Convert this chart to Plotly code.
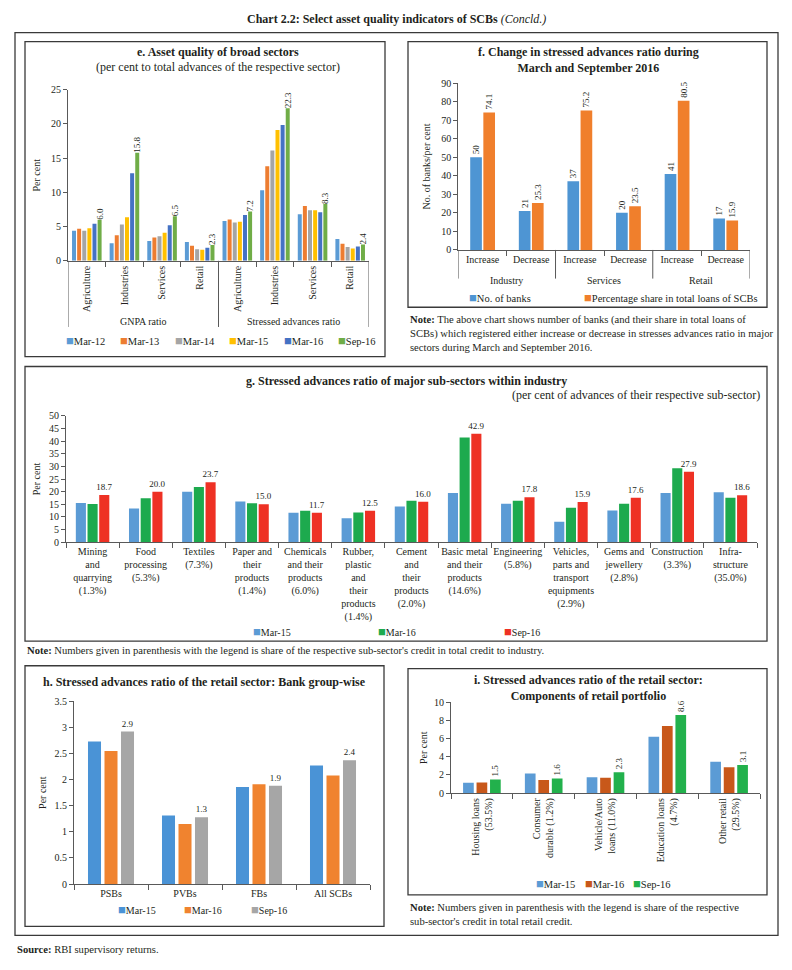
import plotly.graph_objects as go

W, H = 792, 970
FONT = "Liberation Serif"
TXT = "#231f20"
AX = "#595959"


def fx(v):
    return v / W


def fy(v):
    return 1 - v / H


# ---------------- panel e data ----------------
e_groups = ["GNPA ratio", "Stressed advances ratio"]
e_sectors = ["Agriculture", "Industries", "Services", "Retail"]
e_periods = ["Mar-12", "Mar-13", "Mar-14", "Mar-15", "Mar-16", "Sep-16"]
e_mar12 = [4.4, 2.55, 2.9, 2.75, 5.8, 10.3, 6.8, 3.2]
e_mar13 = [4.7, 3.75, 3.4, 2.2, 6.05, 13.8, 8.0, 2.5]
e_mar14 = [4.4, 5.3, 3.6, 1.7, 5.6, 16.1, 7.4, 2.0]
e_mar15 = [4.75, 6.35, 4.1, 1.6, 5.7, 19.1, 7.4, 1.8]
e_mar16 = [5.4, 12.8, 5.2, 1.9, 6.7, 19.85, 7.1, 2.1]
e_sep16 = [6.0, 15.8, 6.5, 2.3, 7.2, 22.3, 8.3, 2.4]

# ---------------- panel f data ----------------
f_sectors = ["Industry", "Services", "Retail"]
f_changes = ["Increase", "Decrease"]
f_series = ["No. of banks", "Percentage share in total loans of SCBs"]
f_banks = [50, 21, 37, 20, 41, 17]
f_share = [74.1, 25.3, 75.2, 23.5, 80.5, 15.9]

# ---------------- panel g data ----------------
g_subsectors = [
    "Mining<br>and<br>quarrying<br>(1.3%)",
    "Food<br>processing<br>(5.3%)",
    "Textiles<br>(7.3%)",
    "Paper and<br>their<br>products<br>(1.4%)",
    "Chemicals<br>and their<br>products<br>(6.0%)",
    "Rubber,<br>plastic<br>and<br>their<br>products<br>(1.4%)",
    "Cement<br>and<br>their<br>products<br>(2.0%)",
    "Basic metal<br>and their<br>products<br>(14.6%)",
    "Engineering<br>(5.8%)",
    "Vehicles,<br>parts and<br>transport<br>equipments<br>(2.9%)",
    "Gems and<br>jewellery<br>(2.8%)",
    "Construction<br>(3.3%)",
    "Infra-<br>structure<br>(35.0%)",
]
g_periods = ["Mar-15", "Mar-16", "Sep-16"]
g_mar15 = [15.5, 13.4, 20.0, 16.1, 11.7, 9.5, 14.2, 19.5, 15.2, 8.1, 12.6, 19.5, 19.8]
g_mar16 = [15.1, 17.4, 21.9, 15.4, 12.5, 11.8, 16.4, 41.4, 16.4, 13.7, 15.2, 29.3, 17.6]
g_sep16 = [18.7, 20.0, 23.7, 15.0, 11.7, 12.5, 16.0, 42.9, 17.8, 15.9, 17.6, 27.9, 18.6]

# ---------------- panel h data ----------------
h_groups = ["PSBs", "PVBs", "FBs", "All SCBs"]
h_periods = ["Mar-15", "Mar-16", "Sep-16"]
h_mar15 = [2.73, 1.31, 1.86, 2.27]
h_mar16 = [2.55, 1.15, 1.91, 2.08]
h_sep16 = [2.92, 1.28, 1.88, 2.37]

# ---------------- panel i data ----------------
i_components = [
    "Housing loans<br>(53.5%)",
    "Consumer<br>durable (1.2%)",
    "Vehicle/Auto<br>loans (11.0%)",
    "Education loans<br>(4.7%)",
    "Other retail<br>(29.5%)",
]
i_periods = ["Mar-15", "Mar-16", "Sep-16"]
i_mar15 = [1.13, 2.15, 1.75, 6.2, 3.45]
i_mar16 = [1.16, 1.45, 1.7, 7.4, 2.85]
i_sep16 = [1.5, 1.6, 2.3, 8.6, 3.1]

# colours
e_cols = ["#5B9BD5", "#ED7D31", "#A5A5A5", "#FFC000", "#4472C4", "#70AD47"]
f_cols = ["#4E95D3", "#F07F2C"]
g_cols = ["#5B9BD5", "#1DAA4E", "#EE3124"]
h_cols = ["#4A93D6", "#F0832F", "#A6A6A6"]
i_cols = ["#5B9BD5", "#C8581A", "#22B14C"]


def offsets(n, pitch, width):
    start = -n * pitch / 2 + (pitch - width) / 2
    return [start + k * pitch for k in range(n)]


fig = go.Figure()
VFONT = dict(size=9, color=TXT, family=FONT)


def add_bars(x, series, names, cols, xa, ya, pitch, width, label_all=False, label_fmt="%{y:.1f}", angle=0):
    offs = offsets(len(series), pitch, width)
    for k, (name, vals, col) in enumerate(zip(names, series, cols)):
        lab = label_all or k == len(series) - 1
        fig.add_trace(go.Bar(
            x=x, y=vals, name=name, marker=dict(color=col, line=dict(width=0)),
            offset=offs[k], width=width, xaxis=xa, yaxis=ya, showlegend=False,
            texttemplate=label_fmt if lab else None, textposition="outside" if lab else "none",
            textangle=angle, constraintext="none", cliponaxis=False, textfont=VFONT,
        ))


# ---- e
e_labels = [s for _ in e_groups for s in e_sectors]
e_x = list(range(len(e_labels)))
add_bars(e_x, [e_mar12, e_mar13, e_mar14, e_mar15, e_mar16, e_sep16], e_periods, e_cols,
         "x", "y", 0.136, 0.106, angle=-90)
# ---- f
f_labels = [c for _ in f_sectors for c in f_changes]
f_x = list(range(len(f_labels)))
add_bars(f_x, [f_banks, f_share], f_series, f_cols, "x2", "y2", 0.27, 0.24, label_all=True,
         label_fmt="%{y}", angle=-90)
# ---- g
add_bars(g_subsectors, [g_mar15, g_mar16, g_sep16], g_periods, g_cols, "x3", "y3", 0.22, 0.19)
# ---- h
add_bars(h_groups, [h_mar15, h_mar16, h_sep16], h_periods, h_cols, "x4", "y4", 0.223, 0.176)
# ---- i
add_bars(i_components, [i_mar15, i_mar16, i_sep16], i_periods, i_cols, "x5", "y5", 0.218, 0.173, angle=-90)

tickfont = dict(size=10, color=TXT, family=FONT)


def xax(d0, d1, anchor, **kw):
    base = dict(domain=[fx(d0), fx(d1)], anchor=anchor, showline=True, linecolor=AX, linewidth=1,
                ticks="outside", ticklen=5, tickcolor=AX, tickfont=tickfont, showgrid=False,
                zeroline=False, fixedrange=True)
    base.update(kw)
    return base


def yax(top, bottom, anchor, rng, dtick, title, standoff, **kw):
    base = dict(domain=[fy(bottom), fy(top)], anchor=anchor, range=rng, dtick=dtick, showline=True,
                linecolor=AX, linewidth=1, ticks="outside", ticklen=4, tickcolor=AX, tickfont=tickfont,
                showgrid=False, zeroline=False, fixedrange=True,
                title=dict(text=title, font=dict(size=10, color=TXT, family=FONT), standoff=standoff))
    base.update(kw)
    return base


def boundaries(n, skip_every):
    return [i + 0.5 for i in range(n - 1) if (i + 1) % skip_every != 0]


fig.update_layout(
    width=W, height=H, margin=dict(l=0, r=0, t=0, b=0), paper_bgcolor="white", plot_bgcolor="white",
    font=dict(family=FONT, color=TXT, size=10), barmode="overlay", showlegend=False,
    xaxis=xax(68, 369, "y", range=[-0.5, len(e_labels) - 0.5], tickmode="array", tickvals=e_x,
              ticktext=e_labels, ticks="", tickangle=-90,
              minor=dict(tickmode="array", tickvals=boundaries(len(e_labels), len(e_sectors)),
                         ticks="outside", ticklen=5, tickcolor=AX)),
    yaxis=yax(84.7, 258, "x", [0, 25], 5, "Per cent", 8),
    xaxis2=xax(458.3, 750, "y2", range=[-0.5, len(f_labels) - 0.5], tickmode="array", tickvals=f_x,
               ticktext=f_labels, ticks="", tickangle=0,
               minor=dict(tickmode="array", tickvals=boundaries(len(f_labels), len(f_changes)),
                          ticks="outside", ticklen=5, tickcolor=AX)),
    yaxis2=yax(78, 247, "x2", [0, 90], 10, "No. of banks/per cent", 8),
    xaxis3=xax(66, 757, "y3", type="category", tickangle=0, tickson="boundaries"),
    yaxis3=yax(415, 543, "x3", [0, 50], 5, "Per cent", 6),
    xaxis4=xax(74, 370, "y4", type="category", tickangle=0, tickson="boundaries"),
    yaxis4=yax(704, 889, "x4", [0, 3.5], 0.5, "Per cent", 5),
    xaxis5=xax(451, 760, "y5", type="category", tickangle=-90, tickson="boundaries"),
    yaxis5=yax(705, 797, "x5", [0, 10], 2, "Per cent", 4),
)

# ---- group dividers and group labels (panels e and f)
for k in range(len(e_groups) + 1):
    xv = k * len(e_sectors) - 0.5
    fig.add_shape(type="line", xref="x", yref="paper", x0=xv, x1=xv, y0=fy(325), y1=fy(258),
                  line=dict(color=AX, width=1))
for k, g in enumerate(e_groups):
    fig.add_annotation(text=g, xref="x", yref="paper", x=k * len(e_sectors) + (len(e_sectors) - 1) / 2,
                       y=fy(319), showarrow=False, font=tickfont, yanchor="middle")
for k in range(len(f_sectors) + 1):
    xv = k * len(f_changes) - 0.5
    fig.add_shape(type="line", xref="x2", yref="paper", x0=xv, x1=xv, y0=fy(276), y1=fy(247),
                  line=dict(color=AX, width=1))
for k, s in enumerate(f_sectors):
    fig.add_annotation(text=s, xref="x2", yref="paper", x=k * len(f_changes) + (len(f_changes) - 1) / 2,
                       y=fy(278), showarrow=False, font=tickfont, yanchor="middle")

# ---- boxes
boxes = [(15, 27, 778, 941), (25, 36, 385, 355), (408, 36, 767, 305), (25, 365, 767, 643),
         (25, 668, 384, 932), (408, 671, 767, 900)]
for (x0, y0, x1, y1) in boxes:
    fig.add_shape(type="rect", xref="paper", yref="paper", x0=fx(x0), x1=fx(x1), y0=fy(y1), y1=fy(y0),
                  line=dict(color="#3a3a3a", width=1.3), fillcolor="rgba(0,0,0,0)", layer="below")


def ann(text, x, y, size=10, xanchor="center", color=TXT):
    fig.add_annotation(text=text, x=fx(x), y=fy(y), xref="paper", yref="paper", showarrow=False,
                       xanchor=xanchor, yanchor="middle", align="left" if xanchor == "left" else "center",
                       font=dict(size=size, color=color, family=FONT))


# ---- legends (coloured square + label)
def legend_items(names, cols, xs, y, size=10.5):
    for name, col, x in zip(names, cols, xs):
        ann(f"<span style='color:{col};font-size:13px'>■</span>{name}", x, y, size, xanchor="left")


legend_items(e_periods, e_cols, [64, 118, 173, 227, 282, 336], 339)
legend_items(f_series, f_cols, [467, 582], 295)
legend_items(g_periods, g_cols, [251, 376, 502], 633, 10)
legend_items(h_periods, h_cols, [116, 182, 249], 915, 10)
legend_items(i_periods, i_cols, [534, 583, 631], 888)

ann("<b>Chart 2.2: Select asset quality indicators of SCBs</b> <i>(Concld.)</i>", 396, 13, 12)
ann("<b>e. Asset quality of broad sectors</b>", 218, 47, 12)
ann("(per cent to total advances of the respective sector)", 218, 62, 12)
ann("<b>f. Change in stressed advances ratio during<br>March and September 2016</b>", 588, 55, 12)
ann("<b>g. Stressed advances ratio of major sub-sectors within industry</b>", 407, 380, 12)
ann("(per cent of advances of their respective sub-sector)", 762, 394, 12, xanchor="right")
ann("<b>h. Stressed advances ratio of the retail sector: Bank group-wise</b>", 205, 684, 12)
ann("<b>i. Stressed advances ratio of the retail sector:<br>Components of retail portfolio</b>", 588, 691, 12)

ann("<b>Note:</b> The above chart shows number of banks (and their share in total loans of<br>"
    "SCBs) which registered either increase or decrease in stresses advances ratio in major<br>"
    "sectors during March and September 2016.", 408, 332, 10.6, xanchor="left")
ann("<b>Note:</b> Numbers given in parenthesis with the legend is share of the respective sub-sector's "
    "credit in total credit to industry.", 25, 653, 10.6, xanchor="left")
ann("<b>Note:</b> Numbers given in parenthesis with the legend is share of the respective<br>"
    "sub-sector's credit in total retail credit.", 408, 920, 10.6, xanchor="left")
ann("<b>Source:</b> RBI supervisory returns.", 15, 955, 10.6, xanchor="left")

fig.write_html("out.html", config={"displayModeBar": False},
               post_script="document.body.style.margin='0';document.body.style.padding='0';")
